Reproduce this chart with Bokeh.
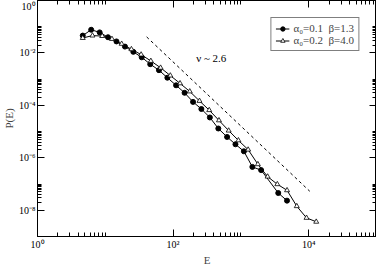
from bokeh.plotting import figure
from bokeh.models import LogAxis, FixedTicker, Legend, LegendItem, Range1d
from bokeh.core.properties import value
from bokeh.embed import file_html
from bokeh.resources import INLINE

# ---- data ----
E1 = [4.65, 6.19, 8.26, 10.97, 14.62, 19.49, 25.9, 34.5, 46.0, 61.9, 82.3, 110.7,
      147.6, 196.8, 261.3, 348.6, 464.6, 625.6, 831.4, 1107, 1476, 1988, 3556, 4786]
P1 = [0.0459, 0.0767, 0.0608, 0.0397, 0.0275, 0.01745, 0.0110, 0.00681, 0.00373,
      0.00220, 1.137e-3, 5.83e-4, 3.02e-4, 1.36e-4, 7.28e-5, 3.46e-5, 1.315e-5,
      6.25e-6, 3.29e-6, 1.775e-6, 4.51e-7, 3.40e-7, 4.55e-8, 2.33e-8]
E2 = [4.65, 6.47, 9.00, 12.53, 17.43, 24.26, 33.76, 46.98, 65.37, 90.96, 126.6,
      176.1, 245.1, 341.1, 474.7, 660.5, 919.1, 1279, 1779, 2476, 3445, 4794,
      6671, 9283, 12918]
P2 = [0.0371, 0.0459, 0.0440, 0.0340, 0.0222, 0.01384, 0.00865, 0.00495, 0.00272,
      1.374e-3, 6.92e-4, 3.40e-4, 1.48e-4, 6.58e-5, 2.68e-5, 1.09e-5, 4.63e-6,
      2.05e-6, 5.69e-7, 1.92e-7, 9.84e-8, 5.78e-8, 1.43e-8, 5.13e-9, 3.64e-9]
GUIDE_E = [40.7, 10370]
GUIDE_P = [0.041, 5.31e-8]
NOTE_E = [219]
NOTE_P = [6.4e-3]
NOTE_TEXT = ["\u03bd ~ 2.6"]
LABEL1 = "\u03b1\u2080=0.1\u00a0\u00a0\u03b2=1.3"
LABEL2 = "\u03b1\u2080=0.2\u00a0\u00a0\u03b2=4.0"

X_MAJOR = [1, 100, 10000]
X_MAJOR_LABELS = ["10\u2070", "10\u00b2", "10\u2074"]
Y_MAJOR = [1, 1e-2, 1e-4, 1e-6, 1e-8]
Y_MAJOR_LABELS = ["10\u2070", "10\u207b\u00b2", "10\u207b\u2074", "10\u207b\u2076", "10\u207b\u2078"]

FONT = "Liberation Serif"

def minors(majors):
    out = []
    for m in majors:
        out += [m * k for k in range(2, 11)]
    return out

x_ticker = FixedTicker(ticks=X_MAJOR, minor_ticks=minors(X_MAJOR))
y_ticker = FixedTicker(ticks=Y_MAJOR, minor_ticks=minors(Y_MAJOR))

p = figure(frame_width=339, frame_height=236, x_axis_type="log", y_axis_type="log",
           x_range=Range1d(1, 1e5), y_range=Range1d(1e-9, 1),
           output_backend="svg", toolbar_location=None,
           min_border_left=0, min_border_right=0, min_border_top=0, min_border_bottom=0)
p.grid.visible = False
p.outline_line_color = "black"
p.background_fill_color = "white"
p.border_fill_color = "white"

def style_axis(ax, ticker, majors, labels, show_labels):
    ax.ticker = ticker
    ax.axis_line_color = "black"
    ax.major_tick_in = 7
    ax.major_tick_out = 0
    ax.minor_tick_in = 4
    ax.minor_tick_out = 0
    ax.major_tick_line_color = "black"
    ax.minor_tick_line_color = "black"
    ax.major_label_text_font = FONT
    ax.major_label_text_color = "black"
    if show_labels:
        ax.major_label_text_font_size = "10px"
        ax.major_label_overrides = {float(v): s for v, s in zip(majors, labels)}
        ax.major_label_standoff = 2
    else:
        ax.major_label_text_font_size = "1px"
        ax.major_label_overrides = {float(v): "" for v in majors}
        ax.major_label_standoff = 0
        ax.axis_label_standoff = 0

style_axis(p.xaxis[0], x_ticker, X_MAJOR, X_MAJOR_LABELS, True)
style_axis(p.yaxis[0], y_ticker, Y_MAJOR, Y_MAJOR_LABELS, True)
p.xaxis.axis_label = "E"
p.yaxis.axis_label = "P(E)"
for ax in (p.xaxis[0], p.yaxis[0]):
    ax.axis_label_text_font = FONT
    ax.axis_label_text_font_size = "11px"
    ax.axis_label_text_font_style = "normal"
    ax.axis_label_standoff = 1

top = LogAxis()
style_axis(top, x_ticker, X_MAJOR, X_MAJOR_LABELS, False)
p.add_layout(top, "above")
right = LogAxis()
style_axis(right, y_ticker, Y_MAJOR, Y_MAJOR_LABELS, False)
p.add_layout(right, "right")

# guide line and note
p.line(GUIDE_E, GUIDE_P, line_color="black", line_dash="3 3", line_width=1)
p.text(NOTE_E, NOTE_P, text=NOTE_TEXT, text_font=value(FONT), text_font_size="11px",
       text_baseline="middle", text_align="left", text_color="black")

l1 = p.line(E1, P1, line_color="black", line_width=1)
s1 = p.scatter(E1, P1, marker="circle", size=5, fill_color="black", line_color="black")
l2 = p.line(E2, P2, line_color="black", line_width=1)
s2 = p.scatter(E2, P2, marker="triangle", size=5, fill_color="white", line_color="black", line_width=0.8)

legend = Legend(items=[LegendItem(label=LABEL1, renderers=[l1, s1]),
                       LegendItem(label=LABEL2, renderers=[l2, s2])],
                location="top_right")
legend.margin = 17
legend.padding = 4
legend.spacing = 0
legend.glyph_width = 14
legend.glyph_height = 11
legend.label_height = 11
legend.label_standoff = 4
legend.label_text_font = FONT
legend.label_text_font_size = "11px"
legend.border_line_color = "black"
legend.border_line_width = 1
legend.background_fill_alpha = 1
p.add_layout(legend)

open("out.html", "w").write(file_html(p, INLINE))
